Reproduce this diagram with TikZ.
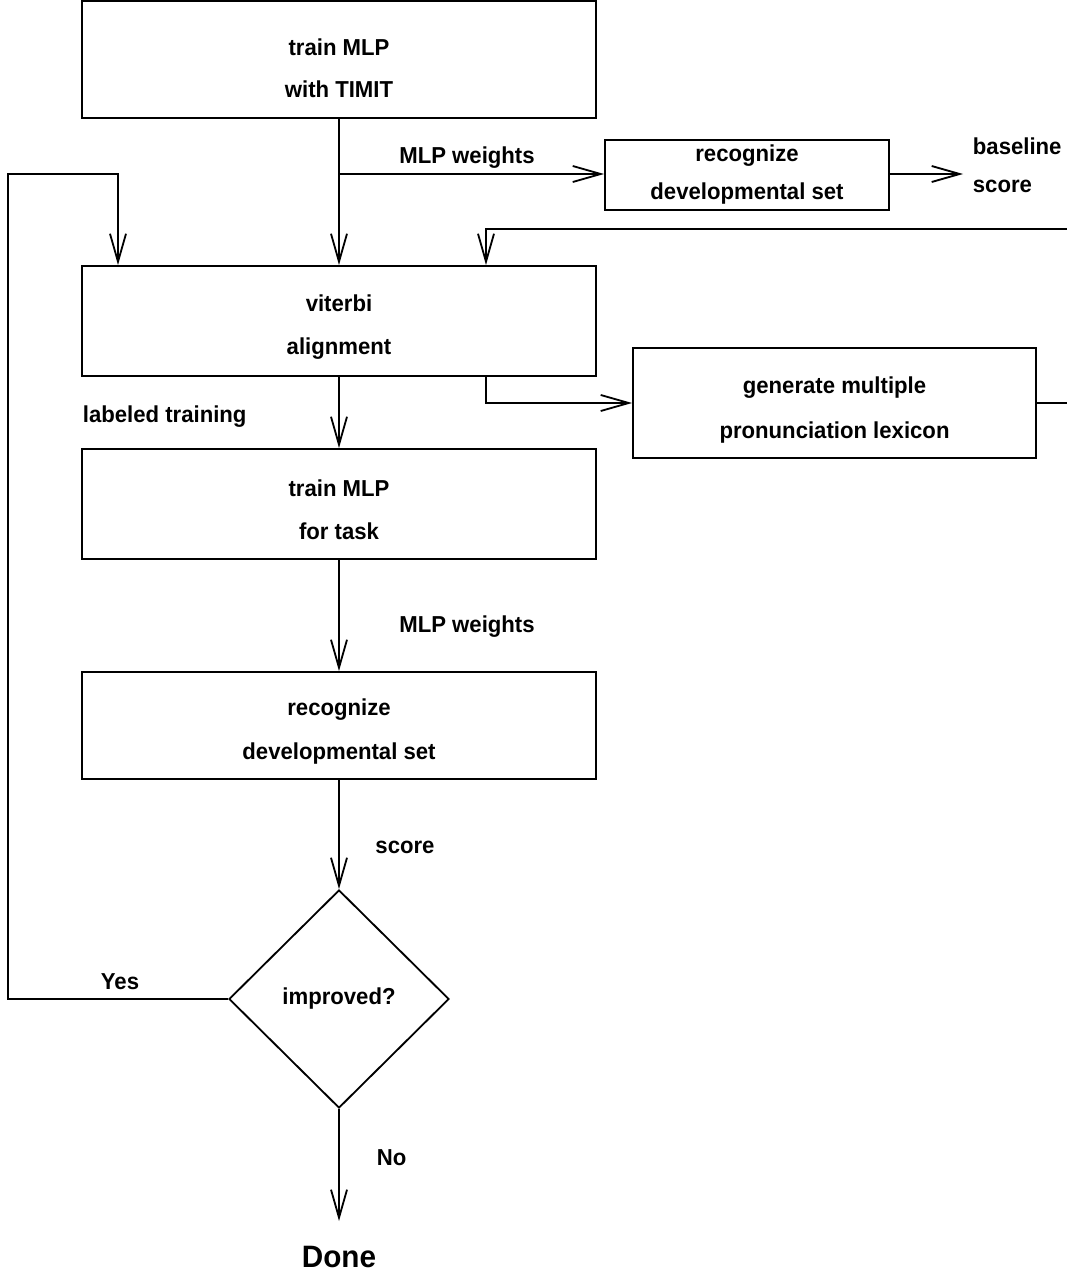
\documentclass[tikz,border=0pt]{standalone}
\usepackage{fontspec}
\setmainfont{Liberation Sans}[FakeStretch=0.96]
\usetikzlibrary{arrows.meta,shapes.geometric}
% invisible strut that lowers the first line of a box label
\newcommand{\droptext}[1]{\rule{0pt}{#1}}
\begin{document}
\begin{tikzpicture}[x=0.025cm,y=-0.025cm,
  line width=1.3pt,
  txt/.style={font=\bfseries\fontsize{16.4pt}{31pt}\selectfont},
  big/.style={font=\bfseries\fontsize{22pt}{26pt}\selectfont},
  stepbox/.style={draw,rectangle,inner sep=0pt,align=center,txt},
  lab/.style={txt,inner sep=0pt},
  flow/.style={-{Straight Barb[length=7mm,width=4mm]}}]
\useasboundingbox (0,0) rectangle (1066,1273);

% processing steps
\node[stepbox,minimum width=12.85cm,minimum height=2.93cm,font=\bfseries\fontsize{16.4pt}{30pt}\selectfont] (b1) at (339,59.5)
  {\droptext{24.5pt}train MLP\\with TIMIT};
\node[stepbox,minimum width=7.1cm,minimum height=1.75cm,font=\bfseries\fontsize{16.4pt}{27pt}\selectfont] (b3) at (747,175)
  {recognize\\developmental set};
\node[stepbox,minimum width=12.85cm,minimum height=2.75cm] (b2) at (339,321)
  {\droptext{20.3pt}viterbi\\alignment};
\node[stepbox,minimum width=10.075cm,minimum height=2.75cm,font=\bfseries\fontsize{16.4pt}{32pt}\selectfont] (b4) at (834.5,403)
  {\droptext{22pt}generate multiple\\pronunciation lexicon};
\node[stepbox,minimum width=12.85cm,minimum height=2.75cm] (b5) at (339,504)
  {\droptext{20.3pt}train MLP\\for task};
\node[stepbox,minimum width=12.85cm,minimum height=2.675cm] (b6) at (339,725.5)
  {\droptext{20.3pt}recognize\\developmental set};
\node[draw,diamond,inner sep=0pt,minimum width=5.5cm,minimum height=5.45cm,txt] (d) at (339,999)
  {improved?};
\node[big,anchor=base] (done) at (339,1267) {Done};

% connector corners
\coordinate (br1) at (339,174);
\coordinate (base) at (963,174);
\coordinate (l1) at (8,999);
\coordinate (l2) at (8,174);
\coordinate (l3) at (118,174);
\coordinate (r1) at (1070,403);
\coordinate (r2) at (1070,229);
\coordinate (r3) at (486,229);
\coordinate (a1) at (486,403);
\coordinate (no) at (339,1221);

% connectors
\draw[flow] (b1.south) -- (b2.north);
\draw[flow] (br1) -- (br1 -| b3.west);
\draw[flow] (br1 -| b3.east) -- (base);
\draw[flow] (d.west) -- (l1) -- (l2) -- (l3) -- (l3 |- b2.north);
\draw[flow] (r1 -| b4.east) -- (r1) -- (r2) -- (r3) -- (r3 |- b2.north);
\draw[flow] (a1 |- b2.south) -- (a1) -- (a1 -| b4.west);
\draw[flow] (b2.south) -- (b5.north);
\draw[flow] (b5.south) -- (b6.north);
\draw[flow] (b6.south) -- (d.north);
\draw[flow] (d.south) -- (no);

% labels
\node[lab,anchor=base] (w1) at (467,164) {MLP weights};
\node[lab,anchor=base west] (bs1) at (972,155) {baseline};
\node[lab,anchor=base west] (bs2) at (972,193) {score};
\node[lab,anchor=base west] (lt) at (82,422) {labeled training};
\node[lab,anchor=base] (w2) at (467,632) {MLP weights};
\node[lab,anchor=base] (sc) at (405,853) {score};
\node[lab,anchor=base] (yes) at (120,989) {Yes};
\node[lab,anchor=base west] (nolab) at (376,1165) {No};
\end{tikzpicture}
\end{document}
